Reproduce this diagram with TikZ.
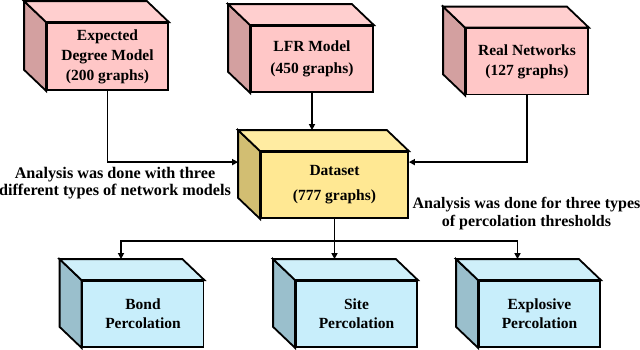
\documentclass[tikz,border=0pt]{standalone}
\usepackage{fontspec}
\setmainfont{Liberation Serif}[BoldFont={Liberation Serif Bold}]
\newfontfamily\boxfont{Liberation Serif Bold}
\usetikzlibrary{arrows.meta}
\definecolor{pinkfront}{HTML}{FFC7C7}
\definecolor{pinktop}{HTML}{FFCFCF}
\definecolor{pinkside}{HTML}{D3A0A0}
\definecolor{yelfront}{HTML}{FFE893}
\definecolor{yeltop}{HTML}{FFECA2}
\definecolor{yelside}{HTML}{D2BE72}
\definecolor{bluefront}{HTML}{C8EEFB}
\definecolor{bluetop}{HTML}{CFF0FA}
\definecolor{blueside}{HTML}{9ABFCC}
\tikzset{
  face/.style={draw, line width=1.8pt, minimum width=121pt, minimum height=66pt,
    inner sep=0pt, align=center, font=\fontsize{15.5}{20}\selectfont\boxfont},
  conn/.style={line width=1.8pt},
  arr/.style={conn, -{Triangle[length=6pt,width=6pt]}},
  lbl/.style={font=\fontsize{16.2}{17}\selectfont\boxfont, align=center, inner sep=0pt},
}
\newcommand\cubesides[3]{%
  \filldraw[fill=#2, line width=1.8pt] (#1.north west) -- ([shift={(-22,-21)}]#1.north west)
    -- ([shift={(-22,-21)}]#1.south west) -- (#1.south west) -- cycle;
  \filldraw[fill=#3, line width=1.8pt] (#1.north west) -- ([shift={(-22,-21)}]#1.north west)
    -- ([shift={(-22,-21)}]#1.north east) -- (#1.north east) -- cycle;
}
\begin{document}
\begin{tikzpicture}[x=1pt,y=-1pt]
\useasboundingbox (0,0) rectangle (640,349);
% top boxes
\node[face, fill=pinkfront, minimum height=67pt] (b1) at (107.5,56.5) {Expected\\Degree Model\\(200 graphs)};
\node[face, fill=pinkfront, minimum width=122pt, font=\fontsize{15.5}{22}\selectfont\boxfont] (b2) at (312,59) {LFR Model\\(450 graphs)};
\node[face, fill=pinkfront, minimum width=122pt] (b3) at (527,61.5) {Real Networks\\(127 graphs)};
\cubesides{b1}{pinkside}{pinktop}
\cubesides{b2}{pinkside}{pinktop}
\cubesides{b3}{pinkside}{pinktop}
% dataset
\node[face, fill=yelfront, minimum width=147pt, font=\fontsize{15.5}{25}\selectfont\boxfont] (ds) at (334.5,185) {Dataset\\(777 graphs)};
\cubesides{ds}{yelside}{yeltop}
% bottom boxes
\node[face, fill=bluefront, font=\fontsize{15.5}{19}\selectfont\boxfont] (bond) at (143,314) {Bond\\Percolation};
\node[face, fill=bluefront, font=\fontsize{15.5}{19}\selectfont\boxfont] (site) at (356.5,314) {Site\\Percolation};
\node[face, fill=bluefront, font=\fontsize{15.5}{19}\selectfont\boxfont] (expl) at (539.5,314) {Explosive\\Percolation};
\cubesides{bond}{blueside}{bluetop}
\cubesides{site}{blueside}{bluetop}
\cubesides{expl}{blueside}{bluetop}
% anchor coordinates
\coordinate (dsL) at ([shift={(-22,11)}]ds.north west);
\coordinate (dsR) at ([shift={(0,11)}]ds.north east);
\coordinate (dsT) at ([shift={(-22,-21)}]ds.north);
\coordinate (bondT) at ([shift={(-22,-21)}]bond.north);
\coordinate (siteT) at ([shift={(-22,-21)}]site.north);
\coordinate (explT) at ([shift={(-22,-21)}]expl.north);
\coordinate (split) at ([shift={(0,22)}]ds.south);
% connectors
\draw[arr] (b1.south) |- (dsL);
\draw[arr] (b3.south) |- (dsR);
\draw[arr] (b2.south) -- (b2.south |- dsT);
\draw[conn] (ds.south) -- (split);
\draw[arr] (split) -- (split |- siteT);
\draw[arr] (split) -| (bondT);
\draw[arr] (split) -| (explT);
% labels
\node[lbl] (l1) at (115,183.5) {Analysis was done with three\\different types of network models};
\node[lbl, font=\fontsize{16}{18}\selectfont\boxfont] (l2) at (526.5,214) {Analysis was done for three types\\of percolation thresholds};
\end{tikzpicture}
\end{document}
